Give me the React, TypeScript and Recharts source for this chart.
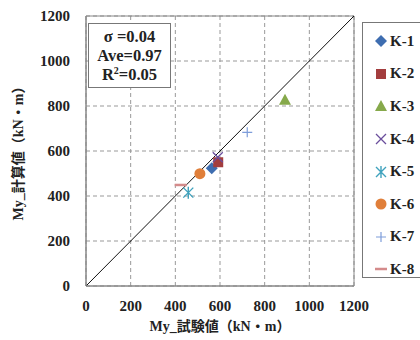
import React from "react";
import {
  ScatterChart,
  Scatter,
  XAxis,
  YAxis,
  CartesianGrid,
  ReferenceLine,
  ReferenceArea,
} from "recharts";

const names = ["K-1", "K-2", "K-3", "K-4", "K-5", "K-6", "K-7", "K-8"];
const testVals = [563, 592, 891, 590, 458, 510, 722, 424];
const calcVals = [523, 550, 828, 572, 415, 499, 683, 449];
const ticks = [0, 200, 400, 600, 800, 1000, 1200];
const stats = ["σ =0.04", "Ave=0.97", "0.05"];

const COLORS = ["#3E6DB0", "#A33D3E", "#86A94B", "#6A4E9C", "#3FA2BD", "#E07F3A", "#7E9DDA", "#D48B8B"];
const KINDS = ["diamond", "square", "triangle", "x", "asterisk", "circle", "plus", "dash"];

const FONT = "'Liberation Serif', 'Noto Sans CJK JP', serif";

function Marker({ kind, color, cx, cy }: { kind: string; color: string; cx: number; cy: number }) {
  const s = 5;
  switch (kind) {
    case "diamond":
      return <path d={`M${cx},${cy - 6}L${cx + 6},${cy}L${cx},${cy + 6}L${cx - 6},${cy}Z`} fill={color} />;
    case "square":
      return <rect x={cx - s} y={cy - s} width={s * 2} height={s * 2} fill={color} />;
    case "triangle":
      return <path d={`M${cx},${cy - 6}L${cx + 6},${cy + 5}L${cx - 6},${cy + 5}Z`} fill={color} />;
    case "x":
      return (
        <path d={`M${cx - s},${cy - s}L${cx + s},${cy + s}M${cx - s},${cy + s}L${cx + s},${cy - s}`} stroke={color} strokeWidth={1.3} />
      );
    case "asterisk":
      return (
        <path
          d={`M${cx - s},${cy - s}L${cx + s},${cy + s}M${cx - s},${cy + s}L${cx + s},${cy - s}M${cx},${cy - s - 1}L${cx},${cy + s + 1}`}
          stroke={color}
          strokeWidth={1.4}
        />
      );
    case "circle":
      return <circle cx={cx} cy={cy} r={5.5} fill={color} />;
    case "plus":
      return <path d={`M${cx - s},${cy}L${cx + s},${cy}M${cx},${cy - s}L${cx},${cy + s}`} stroke={color} strokeWidth={1.2} />;
    default:
      return <path d={`M${cx - 6},${cy}L${cx + 6},${cy}`} stroke={color} strokeWidth={2.5} />;
  }
}

function LegendBox() {
  return (
    <div
      style={{
        position: "absolute",
        left: 362,
        top: 22,
        border: "1px solid #777",
        background: "#fff",
        width: 70,
        height: 256,
        paddingTop: 2,
        boxSizing: "border-box",
        fontFamily: FONT,
        fontWeight: "bold",
        fontSize: 15,
        color: "#222",
      }}
    >
      {names.map((n, i) => (
        <div key={n} style={{ display: "flex", alignItems: "center", height: 32.6 }}>
          <svg width={26} height={16}>
            <Marker kind={KINDS[i]} color={COLORS[i]} cx={18} cy={8} />
          </svg>
          <span style={{ marginLeft: 1 }}>{n}</span>
        </div>
      ))}
    </div>
  );
}

export default function App() {
  return (
    <div style={{ position: "absolute", left: 0, top: 0, width: 420, height: 340, background: "#fff", overflow: "hidden" }}>
      <ScatterChart width={420} height={340} margin={{ top: 16, right: 66, bottom: 24, left: 36 }}>
        <CartesianGrid stroke="#999" strokeDasharray="4 3" />
        <XAxis
          type="number"
          dataKey="x"
          domain={[0, 1200]}
          ticks={ticks}
          interval={0}
          height={30}
          tickLine={false}
          axisLine={{ stroke: "#888" }}
          tick={{ fill: "#222", fontFamily: FONT, fontWeight: "bold", fontSize: 15 }}
          tickMargin={8}
        />
        <YAxis
          type="number"
          dataKey="y"
          domain={[0, 1200]}
          ticks={ticks}
          interval={0}
          width={50}
          tickLine={false}
          axisLine={{ stroke: "#888" }}
          tick={{ fill: "#222", fontFamily: FONT, fontWeight: "bold", fontSize: 15 }}
          tickMargin={10}
        />
        <ReferenceArea x1={0} x2={1200} y1={0} y2={1200} fill="none" stroke="#888" strokeWidth={1} />
        <ReferenceLine segment={[{ x: 0, y: 0 }, { x: 1200, y: 1200 }]} stroke="#111" strokeWidth={1} />
        {names.map((n, i) => (
          <Scatter
            key={n}
            name={n}
            data={[{ x: testVals[i], y: calcVals[i] }]}
            fill={COLORS[i]}
            isAnimationActive={false}
            shape={(p: any) => <Marker kind={KINDS[i]} color={COLORS[i]} cx={p.cx} cy={p.cy} />}
          />
        ))}
        <text x={220} y={331} textAnchor="middle" fontFamily={FONT} fontWeight="bold" fontSize={14} fill="#222">
          My_試験値（kN・m）
        </text>
        <text
          x={23}
          y={150}
          textAnchor="middle"
          transform="rotate(-90 23 150)"
          fontFamily={FONT}
          fontWeight="bold"
          fontSize={14}
          fill="#222"
        >
          My_計算値（kN・m）
        </text>
      </ScatterChart>
      <LegendBox />
      <div
        style={{
          position: "absolute",
          left: 88,
          top: 23,
          width: 83,
          height: 65,
          border: "1px solid #777",
          background: "#fff",
          boxSizing: "border-box",
          fontFamily: FONT,
          fontWeight: "bold",
          fontSize: 16.5,
          lineHeight: "19px",
          textAlign: "center",
          paddingTop: 3,
          color: "#222",
        }}
      >
        <div>{stats[0]}</div>
        <div>{stats[1]}</div>
        <div>
          R<sup style={{ fontSize: 10, lineHeight: 0 }}>2</sup>={stats[2]}
        </div>
      </div>
    </div>
  );
}
